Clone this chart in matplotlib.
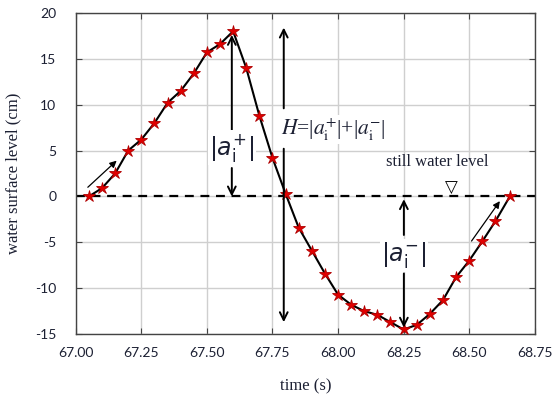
import numpy as np
import matplotlib
matplotlib.use("Agg")
import matplotlib.pyplot as plt

plt.rcParams["axes.unicode_minus"] = False

# water surface record
time_s = [67.05, 67.10, 67.15, 67.20, 67.25, 67.30, 67.35, 67.40, 67.45, 67.50,
          67.55, 67.60, 67.65, 67.70, 67.75, 67.80, 67.85, 67.90, 67.95, 68.00,
          68.05, 68.10, 68.15, 68.20, 68.25, 68.30, 68.35, 68.40, 68.45, 68.50,
          68.55, 68.60, 68.655]
level_cm = [0.0, 0.9, 2.5, 5.0, 6.2, 8.0, 10.2, 11.5, 13.4, 15.7,
            16.6, 18.0, 14.0, 8.8, 4.2, 0.3, -3.4, -5.9, -8.4, -10.7,
            -11.8, -12.5, -12.9, -13.7, -14.5, -14.0, -12.8, -11.3, -8.8, -7.0,
            -4.9, -2.7, 0.0]

xticks = [67.00, 67.25, 67.50, 67.75, 68.00, 68.25, 68.50, 68.75]
yticks = [-15, -10, -5, 0, 5, 10, 15, 20]

txt = "#1c2033"

fig = plt.figure(figsize=(5.53, 4.03), dpi=100)
ax = fig.add_axes([0.137, 0.171, 0.83, 0.797])

ax.plot(time_s, level_cm, color="black", lw=1.5, zorder=3)
ax.plot(time_s, level_cm, ls="none", marker="*", ms=9, mfc="#e00000", mec="#b00000",
        mew=0.6, zorder=4)
ax.axhline(0, color="black", lw=1.6, ls=(0, (4, 3)), zorder=2)

ax.set_xlim(67.0, 68.75)
ax.set_ylim(-15, 20)
ax.set_xticks(xticks)
ax.set_yticks(yticks)
ax.set_xticklabels([f"{v:.2f}" for v in xticks])
ax.grid(True, color="#cfcfcf", lw=1.0, zorder=0)
ax.tick_params(direction="in", top=True, right=True, length=4, color="#444444",
               labelsize=10, labelcolor=txt)
ax.tick_params(axis="y", pad=14)
ax.tick_params(axis="x", pad=9)
for lab in ax.get_xticklabels() + ax.get_yticklabels():
    lab.set_family("Lato")
for s in ax.spines.values():
    s.set_color("#444444")
    s.set_linewidth(1.0)

ax.set_xlabel("time (s)", family="Liberation Serif", fontsize=12, color=txt, labelpad=14)
ax.set_ylabel("water surface level (cm)", family="Liberation Serif", fontsize=12,
              color=txt, labelpad=10)

arw = dict(arrowstyle="->", color="black", lw=1.4, mutation_scale=14, shrinkA=0, shrinkB=0)
thin = dict(arrowstyle="-|>", color="black", lw=0.9, mutation_scale=10, shrinkA=0, shrinkB=0)

def arrow(x0, y0, x1, y1, props):
    ax.annotate("", xy=(x1, y1), xytext=(x0, y0), arrowprops=props, zorder=5)

# |a+_i|
arrow(67.595, 7.2, 67.595, 17.6, arw)
arrow(67.595, 3.1, 67.595, 0.0, arw)
ax.text(67.595, 5.3, r"$|a^{+}_{\rm i}|$", ha="center", va="center", fontsize=17,
        color=txt, math_fontfamily="dejavusans",
        bbox=dict(fc="white", ec="none", pad=1), zorder=6)

# H
arrow(67.793, 9.6, 67.793, 18.4, arw)
arrow(67.793, 5.2, 67.793, -13.7, arw)
ax.text(67.782, 7.3, r"$H$=|$a^{+}_{\rm i}$|+|$a^{-}_{\rm i}$|", ha="left", va="center",
        fontsize=15.5, color=txt, family="Liberation Serif", math_fontfamily="stix",
        bbox=dict(fc="white", ec="none", pad=1), zorder=6)

# |a-_i|
arrow(68.251, -4.2, 68.251, -0.3, arw)
arrow(68.251, -8.4, 68.251, -14.3, arw)
ax.text(68.251, -6.4, r"$|a^{-}_{\rm i}|$", ha="center", va="center", fontsize=17,
        color=txt, math_fontfamily="dejavusans",
        bbox=dict(fc="white", ec="none", pad=1), zorder=6)

# direction arrows along the curve
arrow(67.046, 1.0, 67.156, 3.9, thin)
arrow(68.509, -4.86, 68.617, -0.51, thin)

ax.text(68.377, 3.7, "still water level", ha="center", va="center", fontsize=12,
        family="Liberation Serif", color=txt, zorder=6)
ax.text(68.432, 0.0, "\u25bd", ha="center", va="bottom", fontsize=12,
        family="DejaVu Sans", color="black", zorder=6)

fig.savefig("out.png", dpi=100)
